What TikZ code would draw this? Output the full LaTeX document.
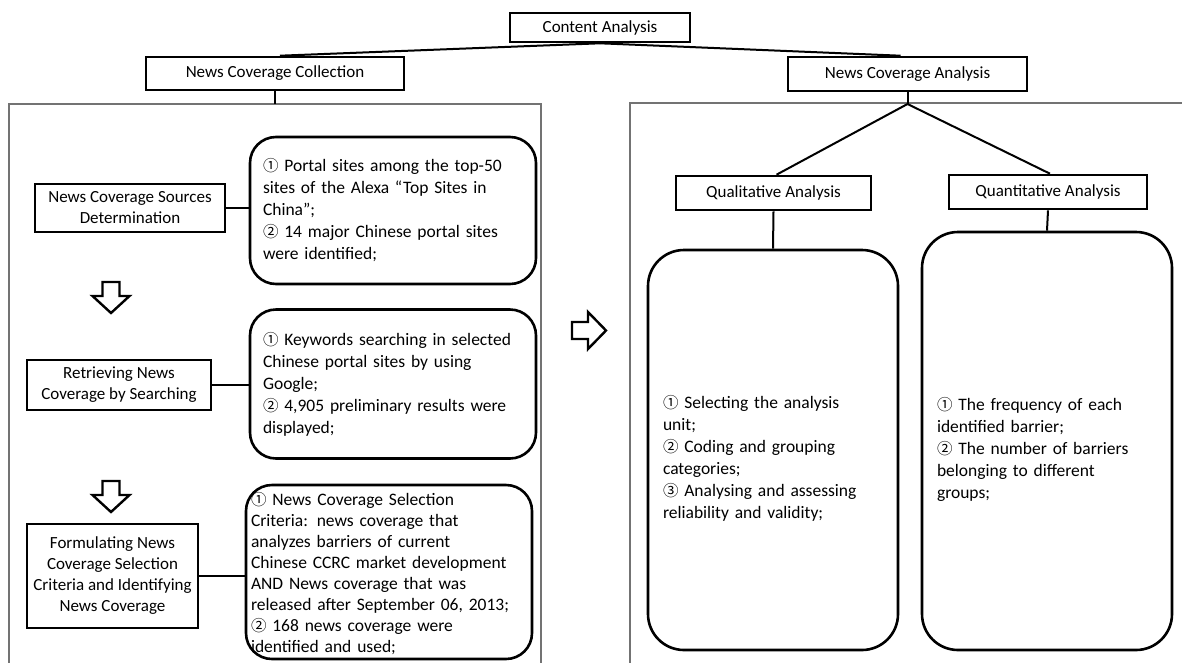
\documentclass[tikz,border=0pt]{standalone}
\usepackage{fontspec}
\setmainfont{Carlito}
\newfontfamily\cjkf{Noto Sans CJK SC}
\newcommand{\cn}[1]{{\cjkf\fontsize{15.5}{22}\selectfont #1}}
\begin{document}
\begin{tikzpicture}[x=1pt,y=-1pt,
  box/.style={draw, line width=2.6pt, rectangle, inner sep=0pt, align=center,
    font=\fontsize{17}{21}\selectfont},
  rbox/.style={draw, line width=2.6pt, rounded corners=26pt, inner ysep=0pt, align=left,
    font=\fontsize{17.5}{22}\selectfont},
  bigbox/.style={draw, line width=2.6pt, rounded corners=36pt, inner ysep=0pt, align=left,
    font=\fontsize{17.5}{22}\selectfont},
  conn/.style={draw, line width=2pt},
  panel/.style={draw=black!55, line width=1.1pt},
  bigarrow/.style={draw, line width=2.4pt, fill=white, line join=miter}
]
\useasboundingbox (0,0) rectangle (1182,662);

% panels
\draw[panel] (9,670) -- (9,104) -- (541,104) -- (541,670);
\draw[panel] (630,670) -- (630,103) -- (1190,103);

% top level
\node[box, minimum width=180, minimum height=29] (ca) at (600,27.5) {Content Analysis};
\node[box, minimum width=258, minimum height=33] (ncc) at (275,73.5) {News Coverage Collection};
\node[box, minimum width=239, minimum height=34] (nca) at (907.5,74) {News Coverage Analysis};
\coordinate (lp) at (275,104);
\coordinate (apex) at (907.5,104);

\draw[conn] (ca.south) -- ([xshift=5pt]ncc.north);
\draw[conn] (ca.south) -- ([xshift=-7pt]nca.north);
\draw[conn] (ncc.south) -- (lp);
\draw[conn] (nca.south) -- (apex);

% left column
\node[box, minimum width=190, minimum height=48] (b1) at (130,208) {News Coverage Sources\\Determination};
\node[box, minimum width=184, minimum height=50] (b2) at (119,385) {Retrieving News\\Coverage by Searching};
\node[box, minimum width=171, minimum height=104] (b3) at (112.5,576) {Formulating News\\Coverage Selection\\Criteria and Identifying\\News Coverage};

\node[rbox, minimum width=286, minimum height=147, text width=260, inner xsep=13pt] (r1) at (393,210.5)
 {\cn{①} Portal sites among the top-50\\sites of the Alexa “Top Sites in\\China”;\\\cn{②} 14 major Chinese portal sites\\were identified;\\[12pt]};
\node[rbox, minimum width=286, minimum height=149, text width=260, inner xsep=13pt] (r2) at (393,384)
 {\cn{①} Keywords searching in selected\\Chinese portal sites by using\\Google;\\\cn{②} 4,905 preliminary results were\\displayed;\\[4pt]};
\node[rbox, minimum width=286, minimum height=174, text width=276, inner xsep=5pt,
  font=\fontsize{17.5}{21}\selectfont] (r3) at (389,572)
 {\rule{0pt}{17pt}\cn{①} News Coverage Selection\\Criteria: news coverage that\\analyzes barriers of current\\Chinese CCRC market development\\AND News coverage that was\\released after September 06, 2013;\\\cn{②} 168 news coverage were\\identified and used;};

\draw[conn] (b1.east) -- (b1.east -| r1.west);
\draw[conn] (b2.east) -- (b2.east -| r2.west);
\draw[conn] (b3.east) -- (b3.east -| r3.west);

% down arrows
\draw[bigarrow] (102.5,282) -- (119.5,282) -- (119.5,296) -- (129.5,296) -- (111,313) -- (92.5,296) -- (102.5,296) -- cycle;
\draw[bigarrow] (102.5,481) -- (119.5,481) -- (119.5,495) -- (129.5,495) -- (111,512) -- (92.5,495) -- (102.5,495) -- cycle;
% right arrow
\draw[bigarrow] (572,322) -- (588,322) -- (588,312) -- (606,330.5) -- (588,349) -- (588,339) -- (572,339) -- cycle;

% right column
\node[box, minimum width=195, minimum height=34] (qual) at (773.5,193) {Qualitative Analysis};
\node[box, minimum width=198, minimum height=34] (quant) at (1048,192) {Quantitative Analysis};
\draw[conn] (apex) -- ([xshift=3pt]qual.north);
\draw[conn] (apex) -- ([xshift=2pt]quant.north);

\node[bigbox, minimum width=250, minimum height=400, text width=220, inner xsep=15pt] (ql) at (773,450)
 {\rule{0pt}{29pt}\cn{①} Selecting the analysis\\unit;\\\cn{②} Coding and grouping\\categories;\\\cn{③} Analysing and assessing\\reliability and validity;};
\node[bigbox, minimum width=250, minimum height=418, text width=220, inner xsep=15pt] (qn) at (1047,441)
 {\rule{0pt}{29pt}\cn{①} The frequency of each\\identified barrier;\\\cn{②} The number of barriers\\belonging to different\\groups;};

\draw[conn] (qual.south) -- (ql.north);
\draw[conn] (quant.south) -- (qn.north);
\end{tikzpicture}
\end{document}
